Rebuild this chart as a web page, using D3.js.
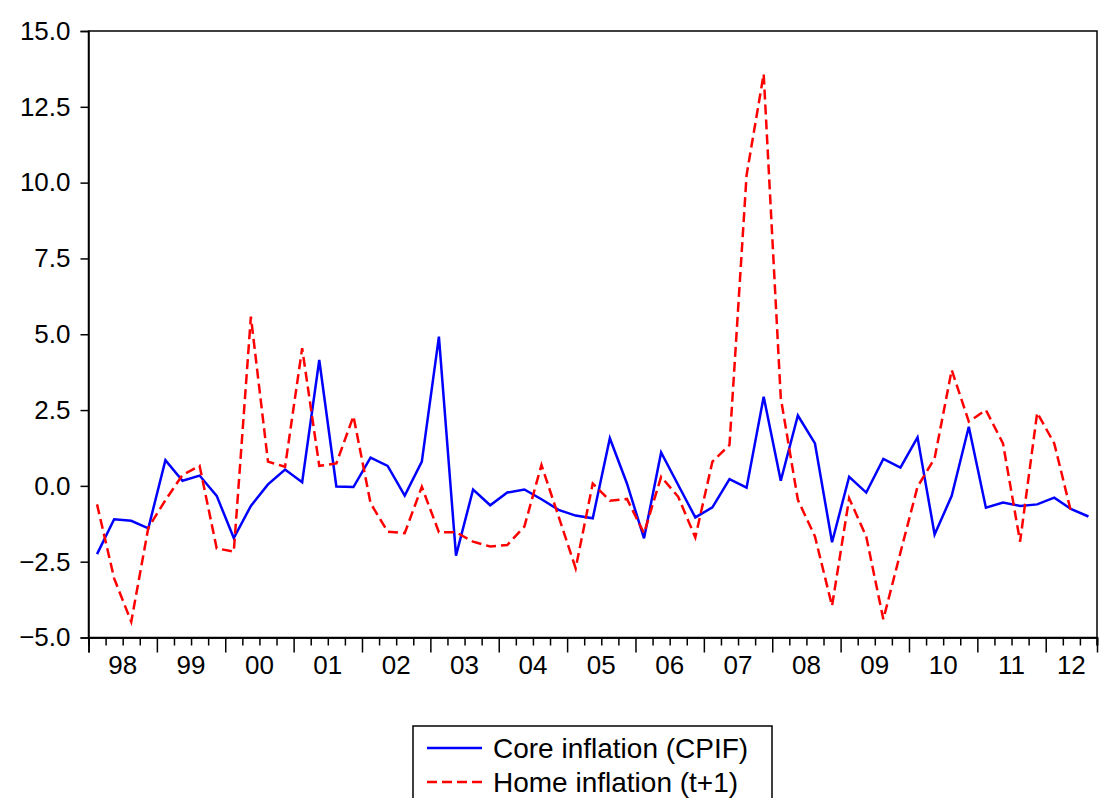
<!DOCTYPE html>
<html>
<head>
<meta charset="utf-8">
<script src="https://cdn.jsdelivr.net/npm/d3@7"></script>
<style>
  html, body { margin: 0; padding: 0; background: #fff; }
  svg { display: block; }
  text { font-family: "Liberation Sans", Arial, sans-serif; fill: #000; }
</style>
</head>
<body>
<svg id="chart" width="1099" height="798"></svg>
<script>
// Quarterly data, 1998Q1 .. 2012Q3
const yearLabels = ["98","99","00","01","02","03","04","05","06","07","08","09","10","11","12"];
const yTicks = [-5, -2.5, 0, 2.5, 5, 7.5, 10, 12.5, 15];
const seriesNames = ["Core inflation (CPIF)", "Home inflation (t+1)"];

const core = [
  -2.25, -1.10, -1.15, -1.40,  0.85,  0.17,  0.34, -0.33,
  -1.72, -0.66,  0.05,  0.54,  0.12,  4.15, -0.02, -0.04,
   0.93,  0.66, -0.32,  0.80,  4.92, -2.30, -0.12, -0.64,
  -0.22, -0.12, -0.44, -0.79, -0.98, -1.07,  1.57,  0.08,
  -1.73,  1.10,  0.03, -1.04, -0.71,  0.22, -0.06,  2.94,
   0.17,  2.32,  1.40, -1.86,  0.30, -0.22,  0.89,  0.60,
   1.60, -1.60, -0.33,  1.95, -0.72, -0.55, -0.66, -0.61,
  -0.39, -0.77, -1.01
];
const home = [
  -0.61, -3.05, -4.48, -1.38, -0.47,  0.36,  0.66, -2.06,
  -2.17,  5.58,  0.80,  0.63,  4.54,  0.66,  0.74,  2.30,
  -0.57, -1.51, -1.56, -0.03, -1.53, -1.53, -1.84, -2.00,
  -1.95, -1.34,  0.69, -1.01, -2.72,  0.08, -0.49, -0.43,
  -1.56,  0.30, -0.36, -1.70,  0.80,  1.35, 10.25, 13.58,
   2.90, -0.46, -1.67, -3.96, -0.41, -1.67, -4.40, -2.20,
  -0.03,  0.91,  3.82,  2.12,  2.50,  1.40, -1.84,  2.41,
   1.40, -0.90
];

const nQ = core.length; // 59 quarters shown
const svg = d3.select("#chart");
const L = 88.5, R = 1097, T = 31, B = 637.5;

const x = d3.scaleLinear().domain([0, nQ]).range([L, R]);
const y = d3.scaleLinear().domain([-5, 15]).range([B, T]);

// Frame
svg.append("rect")
  .attr("x", L).attr("y", T).attr("width", R - L).attr("height", B - T)
  .attr("fill", "none").attr("stroke", "#000").attr("stroke-width", 1.5);

// Y axis
const yAxis = d3.axisLeft(y).tickValues(yTicks).tickSize(8).tickPadding(10)
  .tickFormat(d3.format(".1f"));
const gy = svg.append("g").attr("transform", `translate(${L},0)`).call(yAxis);
gy.select(".domain").attr("stroke", "#000").attr("stroke-width", 1.5);
gy.selectAll(".tick line").attr("stroke", "#000").attr("stroke-width", 1.5);
gy.selectAll(".tick text").attr("font-size", 26).attr("font-family", "Liberation Sans, Arial, sans-serif");

// X axis: quarter ticks (short) and year ticks (long)
const qTicks = d3.range(0, nQ + 1).filter(i => i % 4 !== 0);
const yrTicks = d3.range(0, nQ + 1, 4);
const gxq = svg.append("g").attr("transform", `translate(0,${B})`)
  .call(d3.axisBottom(x).tickValues(qTicks).tickSize(8).tickFormat(""));
const gxy = svg.append("g").attr("transform", `translate(0,${B})`)
  .call(d3.axisBottom(x).tickValues(yrTicks).tickSize(15).tickFormat(""));
[gxq, gxy].forEach(g => {
  g.select(".domain").attr("stroke", "#000").attr("stroke-width", 1.5);
  g.selectAll(".tick line").attr("stroke", "#000").attr("stroke-width", 1.5);
});
// right-end tick
svg.append("line").attr("x1", R).attr("x2", R).attr("y1", B).attr("y2", B + 8)
  .attr("stroke", "#000").attr("stroke-width", 1.5);

// Year labels centered in year intervals
svg.append("g").selectAll("text").data(yearLabels).join("text")
  .attr("x", (d, k) => x((4 * k + Math.min(4 * k + 4, nQ)) / 2))
  .attr("y", B + 36)
  .attr("text-anchor", "middle")
  .attr("font-size", 26)
  .text(d => d);

// Lines
const line = d3.line().x((d, i) => x(i + 0.5)).y(d => y(d));
svg.append("path").datum(core).attr("d", line)
  .attr("fill", "none").attr("stroke", "#0000ff").attr("stroke-width", 2.5)
  .attr("stroke-linejoin", "miter");
svg.append("path").datum(home).attr("d", line)
  .attr("fill", "none").attr("stroke", "#ff0000").attr("stroke-width", 2.5)
  .attr("stroke-dasharray", "10,5");

// Legend
const lg = svg.append("g");
lg.append("rect").attr("x", 413).attr("y", 726).attr("width", 359).attr("height", 90)
  .attr("fill", "#fff").attr("stroke", "#000").attr("stroke-width", 1.5);
const legendItems = [
  { name: seriesNames[0], color: "#0000ff", dash: null, y: 748 },
  { name: seriesNames[1], color: "#ff0000", dash: "10,5", y: 782 }
];
legendItems.forEach(it => {
  lg.append("line").attr("x1", 427).attr("x2", 482).attr("y1", it.y).attr("y2", it.y)
    .attr("stroke", it.color).attr("stroke-width", 2.5)
    .attr("stroke-dasharray", it.dash);
  lg.append("text").attr("x", 493).attr("y", it.y + 10).attr("font-size", 28).text(it.name);
});
</script>
</body>
</html>
